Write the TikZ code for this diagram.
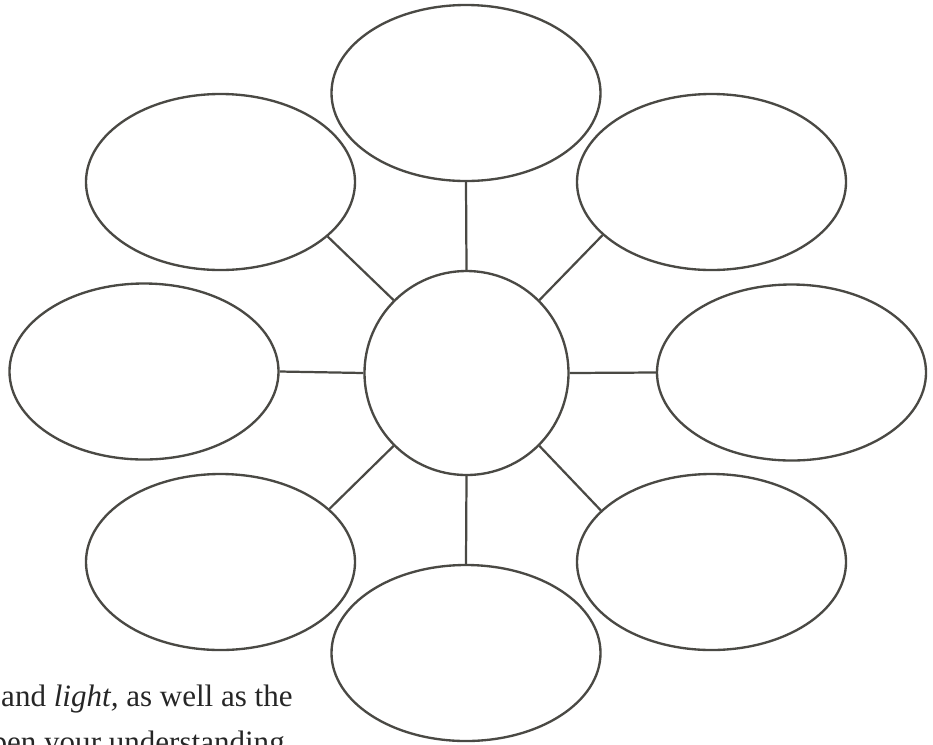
\documentclass[tikz,border=0pt]{standalone}
\usepackage{fontspec}
\setmainfont{Liberation Serif}
\usetikzlibrary{shapes.geometric}
\definecolor{WebInk}{HTML}{4A4944}

\begin{document}
\begin{tikzpicture}[
  x=0.03cm, y=-0.03cm,
  bubble/.style = {ellipse, draw=WebInk, line width=2pt, minimum width=8.07cm, minimum height=5.28cm, inner sep=0pt},
  hub/.style    = {circle, draw=WebInk, line width=2pt, minimum size=6.12cm, inner sep=0pt},
  spoke/.style  = {draw=WebInk, line width=1.9pt},
  prose/.style  = {font=\fontsize{26.5}{32}\selectfont, text=black!85, inner sep=0pt}
]
\useasboundingbox (0,0) rectangle (933,744);

% Centre circle
\node[hub] (c) at (466.5, 373) {};

% Surrounding ellipses
\node[bubble] (t)  at (466,   93)  {};
\node[bubble] (ul) at (220.5, 182) {};
\node[bubble] (ur) at (711.5, 182) {};
\node[bubble] (l)  at (144,   371.5) {};
\node[bubble] (r)  at (791.5, 372.5) {};
\node[bubble] (ll) at (220.5, 562) {};
\node[bubble] (lr) at (711.5, 562) {};
\node[bubble] (b)  at (466,   653) {};

% Spokes
\draw[spoke] (c.north) -- (t.south);
\draw[spoke] (c.south) -- (b.north);
\draw[spoke] (c.west)  -- (l.east);
\draw[spoke] (c.east)  -- (r.west);
\draw[spoke] (c.135)   -- (ul.-27);
\draw[spoke] (c.45)    -- (ur.206);
\draw[spoke] (c.225)   -- (ll.26);
\draw[spoke] (c.-45)   -- (lr.155);

% Running text cut by the page edge
\node[prose, anchor=base west] (line1) at (1, 706.5) {and \textit{light,} as well as the};
\node[prose, anchor=base east] (line2) at (285, 752.5) {pen your understanding};
\end{tikzpicture}
\end{document}
